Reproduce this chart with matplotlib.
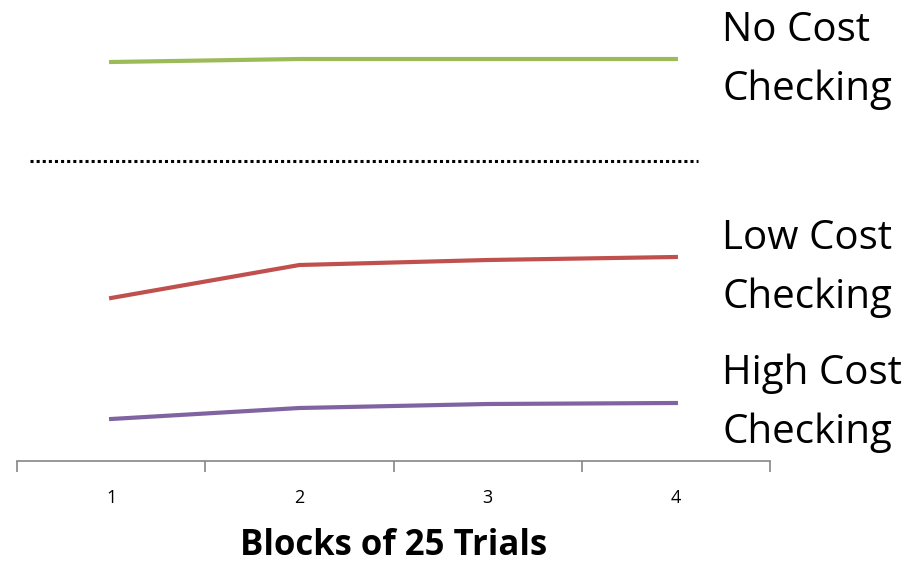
import numpy as np
import matplotlib.pyplot as plt

blocks = ["1", "2", "3", "4"]
no_cost = [399, 402, 402, 402]
low_cost = [163, 196, 201, 204]
high_cost = [42, 53, 57, 58]
divider = 300

labels = ["No Cost\nChecking", "Low Cost\nChecking", "High Cost\nChecking"]
label_y = [60, 268, 403]  # pixel rows from top

W, H = 922, 563
fig = plt.figure(figsize=(W / 100, H / 100), dpi=100)
ax = fig.add_axes([17 / W, (H - 461) / H, (770 - 17) / W, 461 / H])

x = np.arange(len(blocks)) + 0.5
ax.plot(x, no_cost, color="#9BBB59", lw=3)
ax.plot(x, low_cost, color="#C0504D", lw=3)
ax.plot(x, high_cost, color="#8064A2", lw=3)
ax.axhline(divider, xmin=0.017, xmax=0.904, color="black", lw=2.2, ls=(0, (1, 1)))

ax.set_xlim(0, 4)
ax.set_ylim(0, 461)
for s in ["top", "right", "left"]:
    ax.spines[s].set_visible(False)
ax.spines["bottom"].set_color("#868686")
ax.spines["bottom"].set_linewidth(1.2)
ax.set_yticks([])
ax.set_xticks(np.arange(5))
ax.set_xticklabels([])
ax.tick_params(axis="x", which="major", length=8, direction="out", color="#868686", width=1.2)
ax.set_xticks(x, minor=True)
ax.set_xticklabels(blocks, minor=True, fontsize=13, family="Open Sans")
ax.tick_params(axis="x", which="minor", length=0, pad=20)
ax.set_xlabel("Blocks of 25 Trials", fontsize=25, fontweight="bold", family="Open Sans", labelpad=15)

for t, py in zip(labels, label_y):
    fig.text(722 / W, 1 - py / H, t, fontsize=29, family="Open Sans", va="center", ha="left",
             linespacing=1.6)

fig.savefig("out.png", dpi=100)
